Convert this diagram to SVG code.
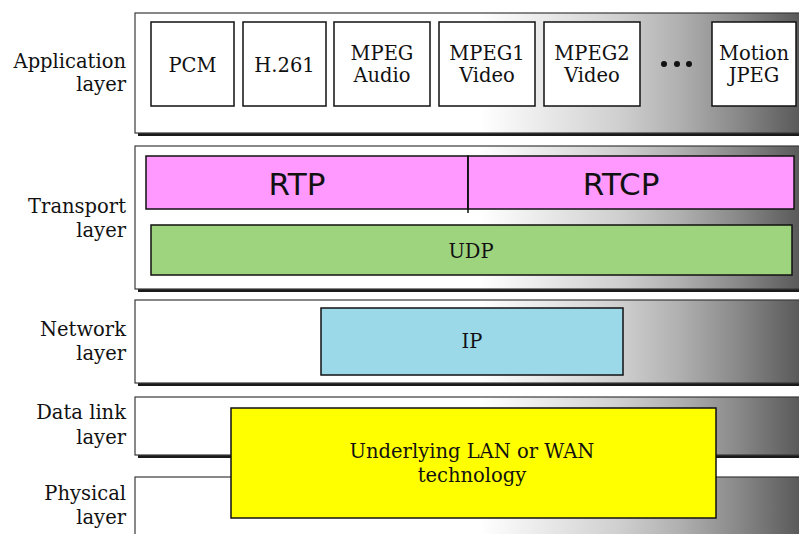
<svg xmlns="http://www.w3.org/2000/svg" width="799" height="534" viewBox="0 0 799 534">
<defs>
<linearGradient id="bandGrad" gradientUnits="userSpaceOnUse" x1="135" y1="0" x2="799" y2="0">
<stop offset="0" stop-color="#ffffff"/>
<stop offset="0.52" stop-color="#ffffff"/>
<stop offset="0.64" stop-color="#e4e4e4"/>
<stop offset="0.73" stop-color="#cfcfcf"/>
<stop offset="0.82" stop-color="#b0b0b0"/>
<stop offset="0.91" stop-color="#888888"/>
<stop offset="1" stop-color="#5a5a5a"/>
</linearGradient>
</defs>
<style>
.shadow{fill:#1a1a1a}
.band{fill:url(#bandGrad);stroke:#3a3a3a;stroke-width:1.2}
.box{fill:#ffffff;stroke:#111;stroke-width:1.5}
.lbl{font-family:"DejaVu Serif","Liberation Serif",serif;font-size:19.5px;fill:#111;text-anchor:end}
.ser{font-family:"DejaVu Serif","Liberation Serif",serif;font-size:19.5px;fill:#111;text-anchor:middle}
.sans{font-family:"DejaVu Sans","Liberation Sans",sans-serif;font-size:31px;fill:#111;text-anchor:middle}
.edge{stroke:#111;stroke-width:1.5}
</style>
<rect width="799" height="534" fill="#ffffff"/>

<g id="layer-labels">
<text class="lbl" x="126" y="68">Application</text>
<text class="lbl" x="126" y="91">layer</text>
<text class="lbl" x="126" y="213">Transport</text>
<text class="lbl" x="126" y="237">layer</text>
<text class="lbl" x="126" y="336">Network</text>
<text class="lbl" x="126" y="360">layer</text>
<text class="lbl" x="126" y="419">Data link</text>
<text class="lbl" x="126" y="444">layer</text>
<text class="lbl" x="126" y="500">Physical</text>
<text class="lbl" x="126" y="524">layer</text>
</g>

<g id="application-layer">
<rect class="shadow" x="138" y="16" width="665" height="120"/>
<rect class="band" x="135" y="13" width="668" height="120"/>
</g>
<g id="transport-layer">
<rect class="shadow" x="138" y="149" width="665" height="143"/>
<rect class="band" x="135" y="146" width="668" height="143"/>
</g>
<g id="network-layer">
<rect class="shadow" x="138" y="303" width="665" height="83"/>
<rect class="band" x="135" y="300" width="668" height="83"/>
</g>
<g id="datalink-layer">
<rect class="shadow" x="138" y="400" width="665" height="58"/>
<rect class="band" x="135" y="397" width="668" height="58"/>
</g>
<g id="physical-layer">
<rect class="band" x="135" y="477" width="668" height="70"/>
</g>

<g id="pcm"><rect class="box" x="151" y="22" width="83" height="84"/><text class="ser" x="192.5" y="72">PCM</text></g>
<g id="h261"><rect class="box" x="243" y="22" width="83" height="84"/><text class="ser" x="284.5" y="72">H.261</text></g>
<g id="mpeg-audio"><rect class="box" x="334" y="22" width="96" height="84"/><text class="ser" x="382" y="60">MPEG</text><text class="ser" x="382" y="82">Audio</text></g>
<g id="mpeg1-video"><rect class="box" x="439" y="22" width="96" height="84"/><text class="ser" x="487" y="60">MPEG1</text><text class="ser" x="487" y="82">Video</text></g>
<g id="mpeg2-video"><rect class="box" x="544" y="22" width="96" height="84"/><text class="ser" x="592" y="60">MPEG2</text><text class="ser" x="592" y="82">Video</text></g>
<g id="ellipsis"><circle cx="664" cy="64" r="3" fill="#111"/><circle cx="677" cy="64" r="3" fill="#111"/><circle cx="689" cy="64" r="3" fill="#111"/></g>
<g id="motion-jpeg"><rect class="box" x="712" y="22" width="84" height="84"/><text class="ser" x="754" y="60">Motion</text><text class="ser" x="754" y="82">JPEG</text></g>

<g id="rtp"><rect x="146" y="156" width="322" height="53" fill="#ff99ff" stroke="#111" stroke-width="1.5"/><text class="sans" x="297" y="195">RTP</text></g>
<g id="rtcp"><rect x="468" y="156" width="326" height="53" fill="#ff99ff" stroke="#111" stroke-width="1.5"/><text class="sans" x="621" y="195">RTCP</text><line class="edge" x1="468" y1="156" x2="468" y2="213" stroke-width="2"/></g>
<g id="udp"><rect x="151" y="225" width="641" height="50" fill="#9fd47f" stroke="#111" stroke-width="1.5"/><text class="ser" x="471" y="258">UDP</text></g>
<g id="ip"><rect x="321" y="308" width="302" height="67" fill="#9bd9e9" stroke="#111" stroke-width="1.5"/><text class="ser" x="472" y="348">IP</text></g>
<g id="lan-wan"><rect x="231" y="408" width="485" height="110" fill="#ffff00" stroke="#111" stroke-width="1.5"/><text class="ser" x="472" y="458">Underlying LAN or WAN</text><text class="ser" x="472" y="482">technology</text></g>

<g id="connectors"/>
</svg>
